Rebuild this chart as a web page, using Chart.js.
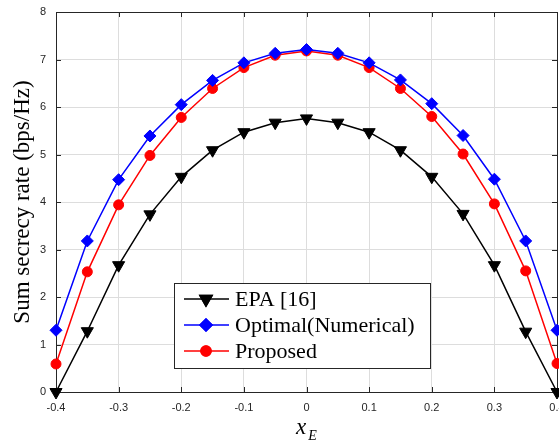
<!DOCTYPE html>
<html>
<head>
<meta charset="utf-8">
<script src="https://cdn.jsdelivr.net/npm/chart.js@4.4.1/dist/chart.umd.min.js"></script>
<style>
  html, body { margin: 0; padding: 0; background: #fff; overflow: hidden; }
</style>
</head>
<body>
<canvas id="canvas" width="559" height="448"></canvas>
<script>
// x_E positions
var xValues = [-0.4, -0.35, -0.3, -0.25, -0.2, -0.15, -0.1, -0.05, 0, 0.05, 0.1, 0.15, 0.2, 0.25, 0.3, 0.35, 0.4];

// sum secrecy rate (bps/Hz)
var epa      = [0, 1.28, 2.67, 3.74, 4.53, 5.09, 5.47, 5.67, 5.76, 5.67, 5.47, 5.09, 4.53, 3.75, 2.67, 1.27, 0];
var optimal  = [1.3, 3.18, 4.47, 5.39, 6.05, 6.56, 6.93, 7.13, 7.21, 7.13, 6.93, 6.57, 6.07, 5.4, 4.48, 3.18, 1.3];
var proposed = [0.59, 2.53, 3.94, 4.98, 5.78, 6.39, 6.83, 7.09, 7.18, 7.09, 6.83, 6.39, 5.8, 5.01, 3.96, 2.55, 0.6];

var seriesNames = ['EPA [16]', 'Optimal(Numerical)', 'Proposed'];

var xTickMin = -0.4, xTickMax = 0.4, xTickStep = 0.1;
var yTickMin = 0, yTickMax = 8, yTickStep = 1;

function toPoints(ys) {
  return xValues.map(function (x, i) { return { x: x, y: ys[i] }; });
}

var axisColor = '#262626';
var tickFont = { family: 'Liberation Sans', size: 11 };

// box around plot + inward tick marks
var framePlugin = {
  id: 'frame',
  beforeDatasetsDraw: function (chart) {
    var ctx = chart.ctx, a = chart.chartArea;
    var xs = chart.scales.x, ys = chart.scales.y;
    ctx.save();
    ctx.strokeStyle = axisColor;
    ctx.lineWidth = 1;
    ctx.beginPath();
    xs.ticks.forEach(function (t) {
      var px = Math.round(xs.getPixelForValue(t.value)) + 0.5;
      ctx.moveTo(px, a.bottom); ctx.lineTo(px, a.bottom - 5);
      ctx.moveTo(px, a.top); ctx.lineTo(px, a.top + 5);
    });
    ys.ticks.forEach(function (t) {
      var py = Math.round(ys.getPixelForValue(t.value)) + 0.5;
      ctx.moveTo(a.left, py); ctx.lineTo(a.left + 5, py);
      ctx.moveTo(a.right, py); ctx.lineTo(a.right - 5, py);
    });
    ctx.stroke();
    ctx.strokeRect(Math.round(a.left) + 0.5, Math.round(a.top) + 0.5,
      Math.round(a.right - a.left), Math.round(a.bottom - a.top));
    ctx.restore();
  }
};

// x_E axis title with subscript
var xTitlePlugin = {
  id: 'xtitle',
  afterDraw: function (chart) {
    var ctx = chart.ctx, a = chart.chartArea;
    var cx = (a.left + a.right) / 2;
    ctx.save();
    ctx.fillStyle = '#000';
    ctx.textBaseline = 'alphabetic';
    ctx.font = 'italic 23px "Liberation Serif"';
    var w1 = ctx.measureText('x').width;
    ctx.font = 'italic 14px "Liberation Serif"';
    var w2 = ctx.measureText('E').width;
    var start = cx - (w1 + w2 + 2) / 2;
    ctx.font = 'italic 23px "Liberation Serif"';
    ctx.fillText('x', start, 434);
    ctx.font = 'italic 14px "Liberation Serif"';
    ctx.fillText('E', start + w1 + 2, 440);
    ctx.restore();
  }
};

// legend box inside plot area
var legendPlugin = {
  id: 'boxLegend',
  afterDatasetsDraw: function (chart) {
    var ctx = chart.ctx, a = chart.chartArea;
    var left = a.left + 118, top = a.top + 271, w = 256, h = 85;
    ctx.save();
    ctx.fillStyle = '#fff';
    ctx.fillRect(left, top, w, h);
    ctx.strokeStyle = axisColor;
    ctx.lineWidth = 1;
    ctx.strokeRect(Math.round(left) + 0.5, Math.round(top) + 0.5, w, h);
    chart.data.datasets.forEach(function (ds, i) {
      var cy = top + 16 + i * 26;
      ctx.strokeStyle = ds.borderColor;
      ctx.lineWidth = 1.5;
      ctx.beginPath();
      ctx.moveTo(left + 10, cy);
      ctx.lineTo(left + 55, cy);
      ctx.stroke();
      Chart.helpers.drawPoint(ctx, {
        pointStyle: ds.pointStyle,
        rotation: ds.pointRotation || 0,
        radius: ds.pointRadius,
        borderWidth: 1
      }, left + 32, cy);
      ctx.fillStyle = ds.borderColor;
      ctx.strokeStyle = ds.borderColor;
      ctx.fill();
      ctx.stroke();
      ctx.fillStyle = '#000';
      ctx.font = '22px "Liberation Serif"';
      ctx.textBaseline = 'middle';
      ctx.fillText(ds.label, left + 61, cy + 1);
    });
    ctx.restore();
  }
};

var ctx = document.getElementById('canvas').getContext('2d');
var myChart = new Chart(ctx, {
  type: 'line',
  data: {
    datasets: [{
      label: seriesNames[0],
      data: toPoints(epa),
      borderColor: '#000000',
      backgroundColor: '#000000',
      borderWidth: 1.5,
      pointStyle: 'triangle',
      pointRotation: 180,
      pointRadius: 7,
      pointBorderWidth: 1,
      clip: false
    },
    {
      label: seriesNames[1],
      data: toPoints(optimal),
      borderColor: '#0000ff',
      backgroundColor: '#0000ff',
      borderWidth: 1.5,
      pointStyle: 'rectRot',
      pointRadius: 6,
      pointBorderWidth: 1,
      clip: false
    },
    {
      label: seriesNames[2],
      data: toPoints(proposed),
      borderColor: '#ff0000',
      backgroundColor: '#ff0000',
      borderWidth: 1.5,
      pointStyle: 'circle',
      pointRadius: 5,
      pointBorderWidth: 1,
      clip: false
    }]
  },
  options: {
    responsive: false,
    animation: false,
    layout: { autoPadding: false, padding: { top: 12, right: 2, bottom: 26, left: 0 } },
    plugins: {
      legend: { display: false },
      tooltip: { enabled: false }
    },
    elements: { line: { tension: 0 } },
    scales: {
      x: {
        type: 'linear',
        min: xTickMin,
        max: xTickMax,
        grid: { color: '#dddddd', drawTicks: false, tickLength: 0 },
        border: { display: false },
        ticks: {
          stepSize: xTickStep,
          padding: 9,
          color: axisColor,
          font: tickFont,
          maxRotation: 0,
          callback: function (v) { return parseFloat(v.toFixed(1)).toString(); }
        },
        afterFit: function (scale) { scale.paddingRight = 0; scale.height = 30; }
      },
      y: {
        min: yTickMin,
        max: yTickMax,
        grid: { color: '#dddddd', drawTicks: false, tickLength: 0 },
        border: { display: false },
        ticks: { stepSize: yTickStep, padding: 10, color: axisColor, font: tickFont },
        title: {
          display: true,
          text: 'Sum secrecy rate (bps/Hz)',
          color: '#000',
          font: { family: 'Liberation Serif', size: 23 },
          padding: { top: 9, bottom: 4 }
        },
        afterFit: function (scale) { scale.width = 56; scale.paddingTop = 0; scale.paddingBottom = 0; }
      }
    }
  },
  plugins: [framePlugin, legendPlugin, xTitlePlugin]
});
</script>
</body>
</html>
